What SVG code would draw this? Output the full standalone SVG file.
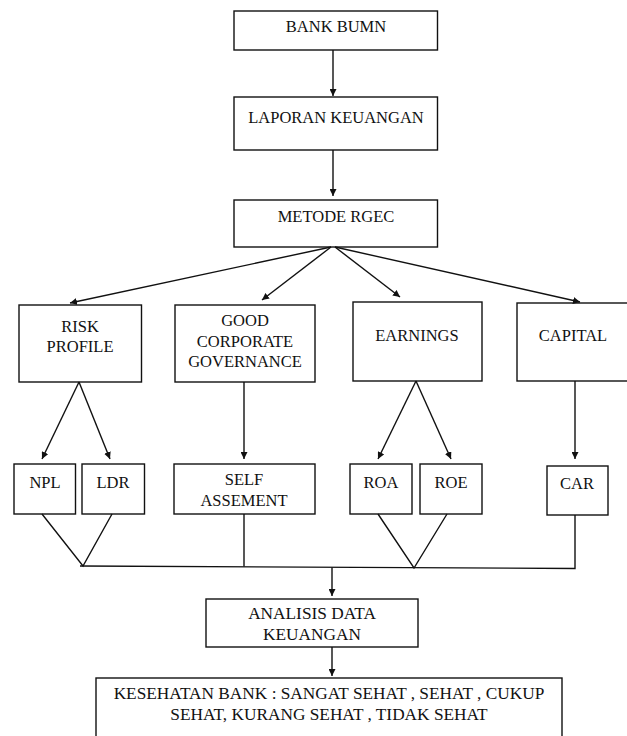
<svg xmlns="http://www.w3.org/2000/svg" width="627" height="736" viewBox="0 0 627 736">
<defs>
<marker id="ah" viewBox="0 0 10 10" refX="10" refY="5" markerWidth="7" markerHeight="7" markerUnits="userSpaceOnUse" orient="auto">
<path d="M0,0 L10,5 L0,10 z" fill="#111"/>
</marker>
<style>
rect{fill:#fff;stroke:#111;stroke-width:1.4}
text{font-family:"Liberation Serif","Times New Roman",serif;font-size:16.5px;fill:#111;text-anchor:middle}
.big{font-size:17.3px}
#connectors line,#connectors polyline{stroke:#111;stroke-width:1.4;fill:none}
.a{marker-end:url(#ah)}
</style>
</defs>
<rect x="0" y="0" width="627" height="736" style="fill:#fff;stroke:none"/>
<g id="bank-bumn"><rect x="234" y="11" width="203.5" height="39"/><text x="336" y="32">BANK BUMN</text></g>
<g id="laporan-keuangan"><rect x="234" y="97" width="203.5" height="53"/><text x="336" y="123">LAPORAN KEUANGAN</text></g>
<g id="metode-rgec"><rect x="234" y="200" width="203.5" height="47"/><text x="336" y="222">METODE RGEC</text></g>
<g id="risk-profile"><rect x="19" y="305" width="122.5" height="77"/><text x="80" y="332">RISK</text><text x="80" y="352">PROFILE</text></g>
<g id="gcg"><rect x="175" y="305" width="140" height="77"/><text x="245" y="326">GOOD</text><text x="245" y="347">CORPORATE</text><text x="245" y="367">GOVERNANCE</text></g>
<g id="earnings"><rect x="353" y="302" width="129" height="79"/><text x="417" y="341">EARNINGS</text></g>
<g id="capital"><rect x="517" y="303" width="112" height="78"/><text x="573" y="341">CAPITAL</text></g>
<g id="npl"><rect x="14" y="464" width="61.5" height="50"/><text x="45" y="488">NPL</text></g>
<g id="ldr"><rect x="82" y="464" width="62.5" height="50"/><text x="113" y="488">LDR</text></g>
<g id="self-assement"><rect x="174" y="464" width="141" height="50"/><text x="244" y="485">SELF</text><text x="244" y="506">ASSEMENT</text></g>
<g id="roa"><rect x="350" y="464" width="62" height="50"/><text x="381" y="488">ROA</text></g>
<g id="roe"><rect x="420" y="464" width="62" height="50"/><text x="451" y="488">ROE</text></g>
<g id="car"><rect x="547" y="466" width="61" height="49"/><text x="577" y="489">CAR</text></g>
<g id="analisis"><rect x="206" y="599" width="212" height="48"/><text class="big" x="312" y="619">ANALISIS DATA</text><text class="big" x="312" y="640">KEUANGAN</text></g>
<g id="kesehatan"><rect x="96" y="678" width="466" height="70"/><text class="big" x="329" y="699">KESEHATAN BANK : SANGAT SEHAT , SEHAT , CUKUP</text><text class="big" x="329" y="720">SEHAT, KURANG SEHAT , TIDAK SEHAT</text></g>
<g id="connectors">
<line class="a" x1="333" y1="50" x2="333" y2="96"/>
<line class="a" x1="333" y1="150" x2="333" y2="196"/>
<line class="a" x1="331" y1="247" x2="70" y2="303"/>
<line class="a" x1="331" y1="247" x2="262" y2="300"/>
<line class="a" x1="335" y1="247" x2="400" y2="297"/>
<line class="a" x1="335" y1="247" x2="580" y2="302"/>
<line class="a" x1="79" y1="382" x2="42" y2="459"/>
<line class="a" x1="79" y1="382" x2="110" y2="459"/>
<line class="a" x1="244" y1="382" x2="244" y2="459"/>
<line class="a" x1="416" y1="381" x2="378" y2="459"/>
<line class="a" x1="416" y1="381" x2="451" y2="459"/>
<line class="a" x1="575" y1="381" x2="575" y2="459"/>
<polyline points="42,514 83,566 112,514"/>
<polyline points="378,514 414,568 447,514"/>
<line x1="244" y1="514" x2="244" y2="566.5"/>
<polyline points="575,515 575,568.5 80,566"/>
<line class="a" x1="332" y1="567.5" x2="332" y2="596"/>
<line class="a" x1="332" y1="647" x2="332" y2="676"/>
</g>
</svg>
